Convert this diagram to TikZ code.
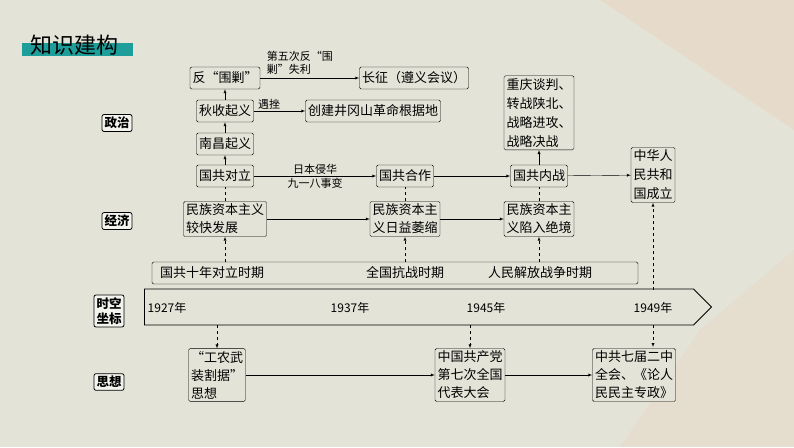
\documentclass[tikz,border=0pt]{standalone}
\usepackage{fontspec}
\setmainfont{Noto Sans CJK SC}
\usetikzlibrary{shapes.arrows,calc,positioning}
\definecolor{bgc}{HTML}{E3E3D8}
\definecolor{peach}{HTML}{EBD2BC}
\definecolor{titlec}{HTML}{1E9E9A}
\tikzset{
	box/.style={draw,rounded corners=1.5pt,fill=bgc,inner sep=2.5pt,minimum height=22pt,font=\fontsize{13}{16}\selectfont,align=center},
	tag/.style={draw,rounded corners=2pt,fill=white!60!bgc,line width=0.8pt,inner sep=2.5pt,font=\bfseries\fontsize{12.5}{15}\selectfont,align=center},
	arr/.style={-latex,thin},
	darr/.style={-latex,thin,dashed},
	lab/.style={font=\fontsize{11}{13}\selectfont,align=left,inner sep=1.5pt}
}
\begin{document}
\begin{tikzpicture}[x=1pt,y=-1pt]
		\fill[bgc] (0,0) rectangle (794,447);
		\fill[peach,opacity=0.45] (600,0)--(794,0)--(794,130)--cycle;
		\fill[peach,opacity=0.35] (700,330)--(794,250)--(794,447)--(620,447)--cycle;
		\useasboundingbox (0,0) rectangle (794,447);
		
		\fill[titlec] (22,43) rectangle (133,56);
		\node[font=\fontsize{22}{24}\selectfont,anchor=west] (title) at (27,45) {知识建构};
		
		\node[tag] (zz) at (117,123) {政治};
		\node[tag] (jj) at (117,221) {经济};
		\node[tag] (sk) at (109,311) {时空\\坐标};
		\node[tag] (sx) at (109,382) {思想};
		
		% 政治
		\node[box] (frj) at (225,78) {反“围剿”};
		\node[box] (qs) at (225,111) {秋收起义};
		\node[box] (nc) at (225,144) {南昌起义};
		\node[box] (dl) at (225,176) {国共对立};
		\node[box] (cz) at (414,78) {长征（遵义会议）};
		\node[box] (jgs) at (373,111) {创建井冈山革命根据地};
		\node[box] (hz) at (405,176) {国共合作};
		\node[box] (nz) at (539,176) {国共内战};
		\node[box,anchor=south,align=left,font=\fontsize{13}{19}\selectfont] (cq) at (539,150) {重庆谈判、\\转战陕北、\\战略进攻、\\战略决战};
		\node[box,font=\fontsize{13}{19}\selectfont] (zh) at (653,175) {中华人\\民共和\\国成立};
		
		% 经济
		\node[box,align=left,font=\fontsize{13}{18}\selectfont] (e1) at (225,219) {民族资本主义\\较快发展};
		\node[box,align=left,font=\fontsize{13}{18}\selectfont] (e2) at (405,219) {民族资本主\\义日益萎缩};
		\node[box,font=\fontsize{13}{18}\selectfont] (e3) at (539,219) {民族资本主\\义陷入绝境};
		
		% 时期
		\draw[rounded corners=1.5pt] (152,262) rectangle (638,284);
		\node[box,draw=none,fill=none] (p1) at (212,273) {国共十年对立时期};
		\node[box,draw=none,fill=none] (p2) at (405,273) {全国抗战时期};
		\node[box,draw=none,fill=none] (p3) at (540,273) {人民解放战争时期};
		
		% 时间轴
		\node[single arrow,draw,fill=bgc,minimum height=567pt,minimum width=36pt,single arrow head extend=0pt,inner sep=0pt,anchor=tip,line width=0.8pt] (axis) at (712,307) {};
		\node[font=\fontsize{12}{14}\selectfont] (t1) at (167,308) {1927年};
		\node[font=\fontsize{12}{14}\selectfont] (t2) at (350,308) {1937年};
		\node[font=\fontsize{12}{14}\selectfont] (t3) at (486,308) {1945年};
		\node[font=\fontsize{12}{14}\selectfont] (t4) at (653,308) {1949年};
		
		% 思想
		\node[box,align=left,font=\fontsize{13}{18}\selectfont] (s1) at (217,375) {“工农武\\装割据”\\思想};
		\node[box,align=left,font=\fontsize{13}{18}\selectfont] (s2) at (470,375) {中国共产党\\第七次全国\\代表大会};
		\node[box,align=left,font=\fontsize{13}{18}\selectfont] (s3) at (634,375) {中共七届二中\\全会、《论人\\民民主专政》};
		
		\draw[arr] (dl) -- (nc);
		\draw[arr] (nc) -- (qs);
		\draw[arr] (qs) -- (frj);
		\draw[arr] (frj) -- (cz) node[lab,pos=0.02,anchor=south west,xshift=3pt,yshift=2pt] {第五次反“围\\剿”失利};
		\draw[arr] (qs) -- (jgs) node[lab,pos=0.3,above] {遇挫};
		\draw[arr] (dl) -- (hz) node[lab,midway,above] {日本侵华} node[lab,midway,below] {九一八事变};
		\draw[arr] (hz) -- (nz);
		\draw[arr] (nz) -- (zh);
		\draw[arr] (nz) -- (cq);
		\draw[arr] (e1) -- (e2);
		\draw[arr] (e2) -- (e3);
		\draw[arr] (s1) -- (s2);
		\draw[arr] (s2) -- (s3);
		
		\draw[dashed] (e1) -- (dl);
		\draw[dashed] (e2) -- (hz);
		\draw[dashed] (e3) -- (nz);
		\draw[darr] (225,262) -- (e1);
		\draw[darr] (405,262) -- (e2);
		\draw[darr] (539,262) -- (e3);
		\draw[darr] (653,290) -- (zh);
		\draw[darr] (217,325) -- (s1);
		\draw[darr] (470,325) -- (s2);
		\draw[darr] (653,325) -- (653,347);
	\end{tikzpicture}
\end{document}
